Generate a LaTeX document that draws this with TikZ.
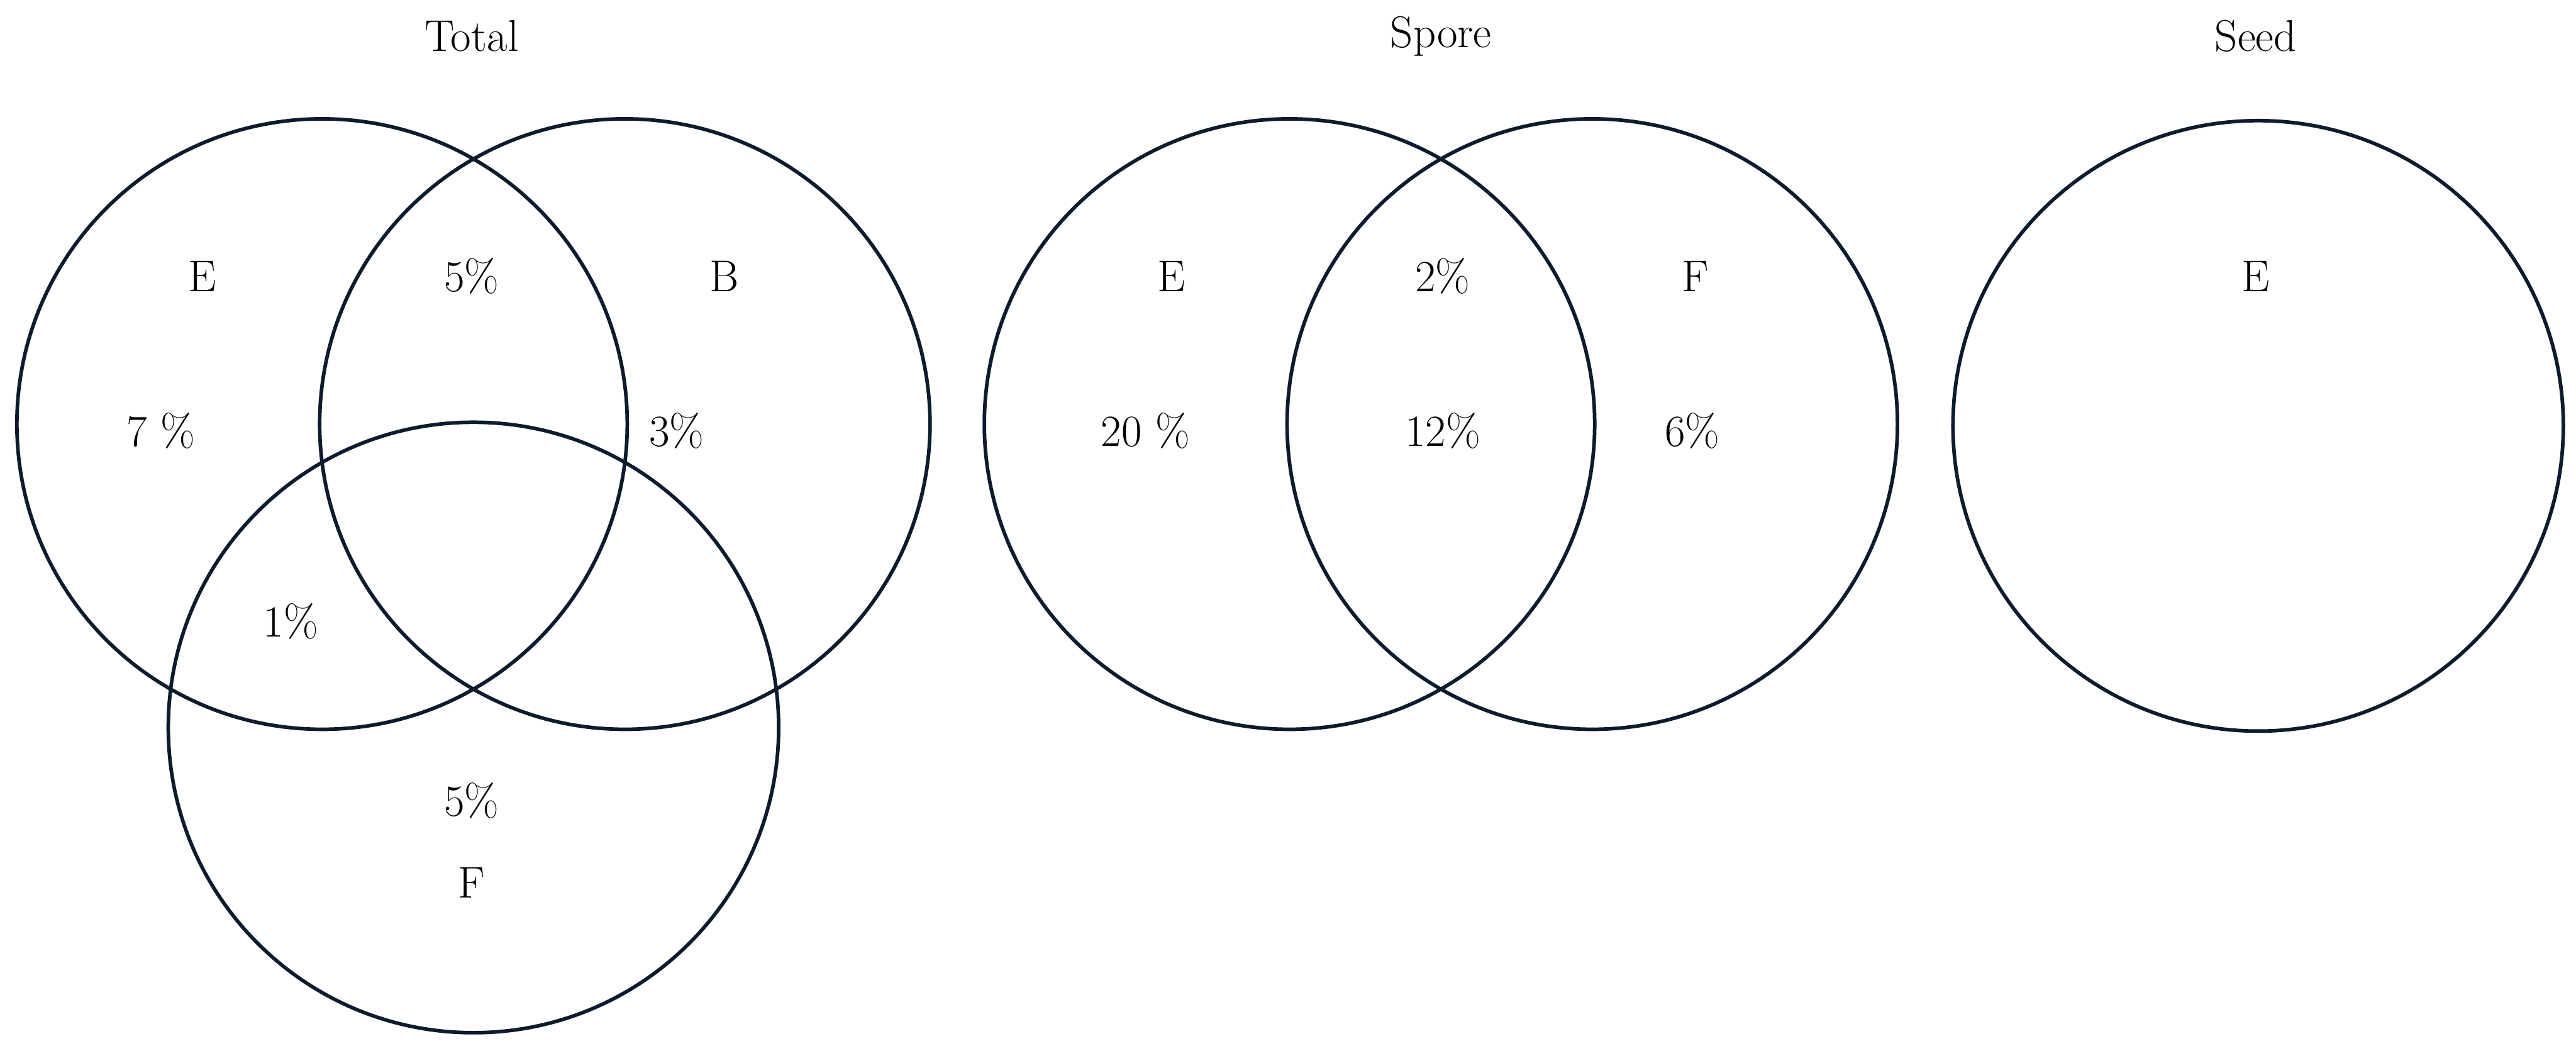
\documentclass[tikz,border=0pt]{standalone}
\usepackage{tikz}
\usetikzlibrary{positioning}
\definecolor{vennline}{RGB}{12,27,45}
\tikzset{
  set/.style={circle, draw=vennline, line width=1.7pt, minimum size=10.12cm,
              inner sep=0pt},
  lab/.style={font=\fontsize{21}{25}\selectfont, text=black, inner sep=0pt},
  ttl/.style={font=\fontsize{21}{25}\selectfont, text=black, inner sep=0pt},
}
\begin{document}
\begin{tikzpicture}[x=1cm,y=-1cm]
  \useasboundingbox (0,0) rectangle (42.71,17.34);
  % Total
  \node[ttl] (tTotal) at (7.82,0.60) {Total};
  \node[set] (totE) at (5.34,7.03) {};
  \node[set] (totB) at (10.36,7.03) {};
  \node[set] (totF) at (7.85,12.06) {};
  \node[lab] (tE) at (3.35,4.58) {E};
  \node[lab] (tEB) at (7.82,4.58) {5\%};
  \node[lab] (tB) at (12.01,4.58) {B};
  \node[lab] (tEonly) at (2.67,7.14) {7 \%};
  \node[lab] (tBonly) at (11.22,7.14) {3\%};
  \node[lab] (tEF) at (4.82,10.30) {1\%};
  \node[lab] (tFonly) at (7.82,13.27) {5\%};
  \node[lab] (tF) at (7.82,14.63) {F};
  % Spore
  \node[ttl] (tSpore) at (23.89,0.60) {Spore};
  \node[set] (spE) at (21.38,7.03) {};
  \node[set] (spF) at (26.40,7.03) {};
  \node[lab] (sE) at (19.42,4.58) {E};
  \node[lab] (sEFtop) at (23.92,4.58) {2\%};
  \node[lab] (sF) at (28.11,4.58) {F};
  \node[lab] (sEonly) at (18.99,7.14) {20 \%};
  \node[lab] (sEF) at (23.92,7.14) {12\%};
  \node[lab] (sFonly) at (28.06,7.14) {6\%};
  % Seed
  \node[ttl] (tSeed) at (37.40,0.60) {Seed};
  \node[set] (sdE) at (37.44,7.06) {};
  \node[lab] (dE) at (37.40,4.58) {E};
\end{tikzpicture}
\end{document}
